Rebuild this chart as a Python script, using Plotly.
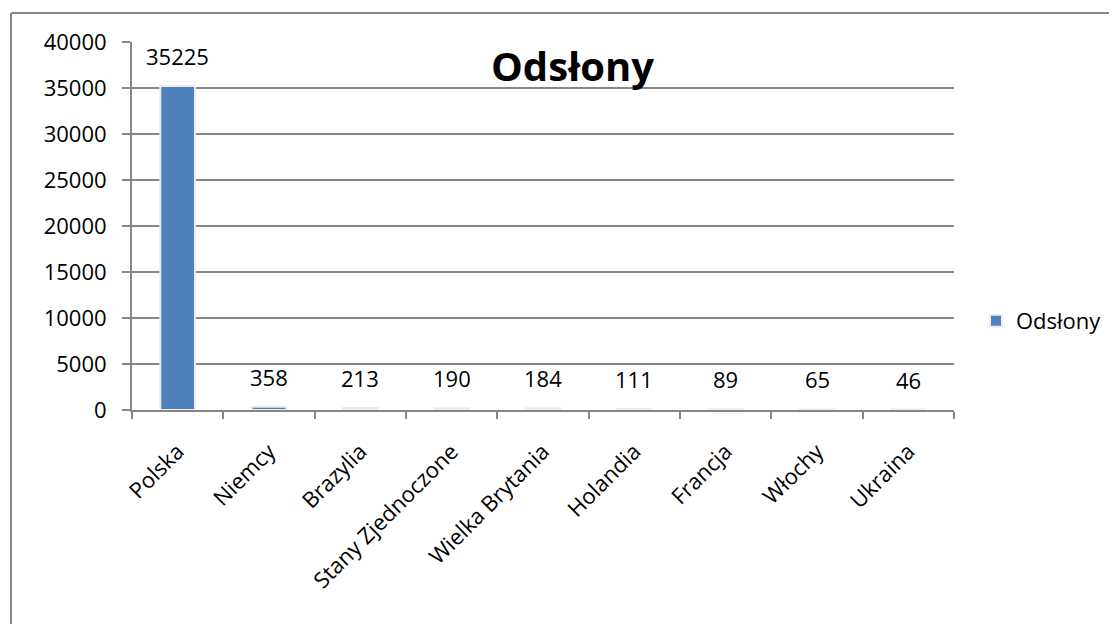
import plotly.graph_objects as go

categories = ["Polska", "Niemcy", "Brazylia", "Stany Zjednoczone", "Wielka Brytania",
              "Holandia", "Francja", "Włochy", "Ukraina"]
values = [35225, 358, 213, 190, 184, 111, 89, 65, 46]
series_name = "Odsłony"
y_ticks = [0, 5000, 10000, 15000, 20000, 25000, 30000, 35000, 40000]

FONT = "Open Sans"
GRAY = "#868686"
BLUE = "#4F81BD"

OFF = 8  # page body margin
W, H = 1117 - OFF, 624 - OFF
# plot area in screen pixels: x 132..954, y 42..410
L = 132 - OFF
T = 42 - OFF
R = W - (954 - OFF)
B = H - (410 - OFF)
pw, ph = W - L - R, H - T - B

def px_x(px):
    return (px - OFF - L) / pw

def px_y(py):
    return (H - B - (py - OFF)) / ph

fig = go.Figure()
fig.add_trace(go.Bar(
    x=categories, y=values, name=series_name,
    marker=dict(color=BLUE, line=dict(color="#ececec", width=2)),
    width=0.38,
))

for c, v in zip(categories, values):
    fig.add_annotation(x=c, y=v, text=str(v), showarrow=False, yanchor="bottom",
                       yshift=13, font=dict(family=FONT, size=22, color="#000"))

fig.add_annotation(xref="paper", yref="paper", x=px_x(572), y=px_y(65),
                   text="<b>Odsłony</b>", showarrow=False,
                   font=dict(family=FONT, size=40, color="#000"),
                   xanchor="center", yanchor="middle")

# outer chart border (top and left visible)
fig.add_shape(type="line", xref="paper", yref="paper",
              x0=px_x(11), x1=px_x(1130), y0=px_y(13), y1=px_y(13),
              line=dict(color=GRAY, width=2))
fig.add_shape(type="line", xref="paper", yref="paper",
              x0=px_x(11), x1=px_x(11), y0=px_y(13), y1=px_y(640),
              line=dict(color=GRAY, width=2))

fig.update_layout(
    width=W, height=H,
    margin=dict(l=L, r=R, t=T, b=B, autoexpand=False),
    paper_bgcolor="white", plot_bgcolor="white",
    font=dict(family=FONT, size=22, color="#000"),
    showlegend=True,
    legend=dict(x=px_x(976), y=px_y(321), xanchor="left", yanchor="middle",
                font=dict(family=FONT, size=22, color="#000"),
                itemwidth=30, bgcolor="rgba(0,0,0,0)"),
)
fig.update_xaxes(
    type="category", tickangle=-45, showline=True, linecolor=GRAY, linewidth=2,
    ticks="outside", tickson="boundaries", ticklen=7, tickcolor=GRAY, tickwidth=2,
    showgrid=False, tickfont=dict(family=FONT, size=22), ticklabelstandoff=18,
)
fig.update_yaxes(
    range=[0, 40000], tickvals=y_ticks, ticktext=[str(t) for t in y_ticks],
    showline=True, linecolor=GRAY, linewidth=2,
    ticks="outside", ticklen=8, tickcolor=GRAY, tickwidth=2,
    showgrid=True, gridcolor=GRAY, gridwidth=1.5, zeroline=False,
    ticklabelstandoff=11, tickfont=dict(family=FONT, size=22),
)

fig.write_html("out.html")
